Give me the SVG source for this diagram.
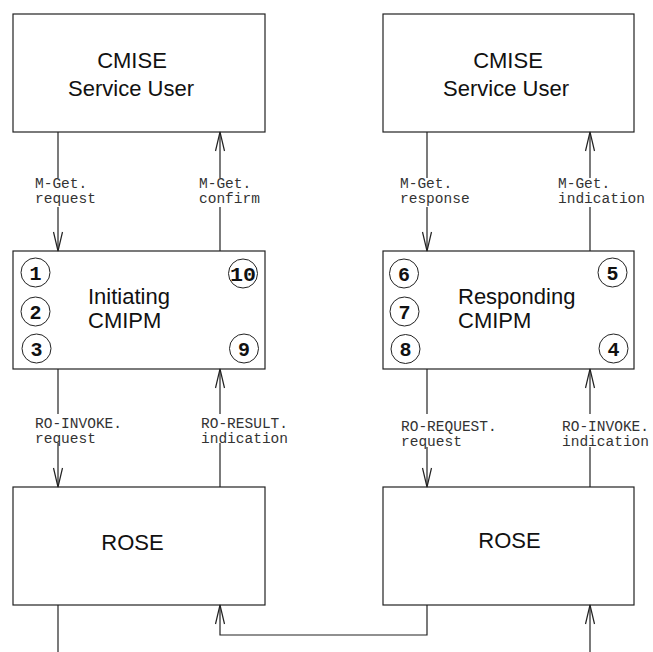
<svg xmlns="http://www.w3.org/2000/svg" width="653" height="652" viewBox="0 0 653 652">
  <style>
    .box { fill: #fff; stroke: #222; stroke-width: 1.2; }
    .title { font-family: "Liberation Sans", Arial, sans-serif; font-size: 22px; fill: #111; }
    .step circle { fill: #fff; stroke: #222; stroke-width: 1; }
    .step text { font-family: "Liberation Mono", "Courier New", monospace; font-weight: bold; font-size: 20px; fill: #111; text-anchor: middle; }
    .wire { fill: none; stroke: #222; stroke-width: 1.2; }
    .lbl { font-family: "Liberation Mono", "Courier New", monospace; font-size: 14.5px; fill: #333; }
    .lblbg { fill: #fff; stroke: none; }
  </style>
  <defs>
    <marker id="vhead" markerUnits="userSpaceOnUse" markerWidth="24" markerHeight="14" viewBox="-20 -7 24 14" refX="0" refY="0" orient="auto">
      <path d="M-19,-4.5 L0,0 L-19,4.5" fill="none" stroke="#222" stroke-width="1.2"/>
    </marker>
  </defs>

  <rect width="653" height="652" fill="#fff"/>

  <!-- service users -->
  <g id="user-left">
    <rect class="box" x="13" y="14" width="252" height="118"/>
    <text class="title" x="132" y="68" text-anchor="middle">CMISE</text>
    <text class="title" x="131" y="96" text-anchor="middle">Service User</text>
  </g>
  <g id="user-right">
    <rect class="box" x="383" y="14" width="251" height="118"/>
    <text class="title" x="508" y="67.5" text-anchor="middle">CMISE</text>
    <text class="title" x="506" y="95.5" text-anchor="middle">Service User</text>
  </g>

  <!-- protocol machines -->
  <g id="cmipm-initiating">
    <rect class="box" x="13" y="251" width="252" height="118"/>
    <text class="title" x="88" y="304">Initiating</text>
    <text class="title" x="88" y="327.5">CMIPM</text>
    <g class="step"><circle cx="35.5" cy="272.5" r="14.5"/><text x="35.5" y="279.5">1</text></g>
    <g class="step"><circle cx="35.5" cy="311.5" r="14.5"/><text x="35.5" y="318.5">2</text></g>
    <g class="step"><circle cx="36.5" cy="348.5" r="14.5"/><text x="36.5" y="355.5">3</text></g>
    <g class="step"><circle cx="243" cy="273.5" r="14.5"/><text x="243" y="280.5" textLength="26" lengthAdjust="spacingAndGlyphs">10</text></g>
    <g class="step"><circle cx="244" cy="348.5" r="14.5"/><text x="244" y="355.5">9</text></g>
  </g>
  <g id="cmipm-responding">
    <rect class="box" x="383" y="251" width="251" height="118"/>
    <text class="title" x="458" y="304">Responding</text>
    <text class="title" x="458" y="327.5">CMIPM</text>
    <g class="step"><circle cx="404" cy="273.5" r="14.5"/><text x="404" y="280.5">6</text></g>
    <g class="step"><circle cx="404.5" cy="311.5" r="14.5"/><text x="404.5" y="318.5">7</text></g>
    <g class="step"><circle cx="405.5" cy="349" r="14.5"/><text x="405.5" y="356">8</text></g>
    <g class="step"><circle cx="612.5" cy="272.5" r="14.5"/><text x="612.5" y="279.5">5</text></g>
    <g class="step"><circle cx="613.5" cy="348.5" r="14.5"/><text x="613.5" y="355.5">4</text></g>
  </g>

  <!-- remote operations -->
  <g id="rose-left">
    <rect class="box" x="13" y="487" width="252" height="118"/>
    <text class="title" x="132.5" y="550" text-anchor="middle">ROSE</text>
  </g>
  <g id="rose-right">
    <rect class="box" x="383" y="487" width="251" height="118"/>
    <text class="title" x="509.5" y="548" text-anchor="middle">ROSE</text>
  </g>

  <!-- primitives passed between layers -->
  <g id="connectors">
    <path class="wire" d="M58,132 V251" marker-end="url(#vhead)"/>
    <path class="wire" d="M220,251 V132" marker-end="url(#vhead)"/>
    <path class="wire" d="M427,132 V251" marker-end="url(#vhead)"/>
    <path class="wire" d="M590,251 V132" marker-end="url(#vhead)"/>
    <path class="wire" d="M58,369 V487" marker-end="url(#vhead)"/>
    <path class="wire" d="M220,487 V369" marker-end="url(#vhead)"/>
    <path class="wire" d="M427,369 V487" marker-end="url(#vhead)"/>
    <path class="wire" d="M590,487 V369" marker-end="url(#vhead)"/>
    <path class="wire" d="M58,605 V652"/>
    <path class="wire" d="M427,605 V635 H220 V605" marker-end="url(#vhead)"/>
    <path class="wire" d="M590,652 V605" marker-end="url(#vhead)"/>

    <!-- labels sit on white patches that break the lines -->
    <rect class="lblbg" x="34" y="178" width="63" height="29"/>
    <text class="lbl" x="35" y="188">M-Get.</text>
    <text class="lbl" x="35" y="203">request</text>

    <rect class="lblbg" x="198" y="178" width="63" height="29"/>
    <text class="lbl" x="199" y="188">M-Get.</text>
    <text class="lbl" x="199" y="203">confirm</text>

    <rect class="lblbg" x="399" y="178" width="72" height="29"/>
    <text class="lbl" x="400" y="187.5">M-Get.</text>
    <text class="lbl" x="400" y="202.5">response</text>

    <rect class="lblbg" x="557" y="178" width="89" height="29"/>
    <text class="lbl" x="558" y="187.5">M-Get.</text>
    <text class="lbl" x="558" y="202.5">indication</text>

    <rect class="lblbg" x="34" y="414" width="89" height="29"/>
    <text class="lbl" x="35" y="428">RO-INVOKE.</text>
    <text class="lbl" x="35" y="443">request</text>

    <rect class="lblbg" x="200" y="414" width="89" height="29"/>
    <text class="lbl" x="201" y="428">RO-RESULT.</text>
    <text class="lbl" x="201" y="443">indication</text>

    <rect class="lblbg" x="400" y="414" width="98" height="33"/>
    <text class="lbl" x="401" y="431">RO-REQUEST.</text>
    <text class="lbl" x="401" y="446">request</text>

    <rect class="lblbg" x="561" y="414" width="89" height="33"/>
    <text class="lbl" x="562" y="431">RO-INVOKE.</text>
    <text class="lbl" x="562" y="446">indication</text>
  </g>
</svg>
